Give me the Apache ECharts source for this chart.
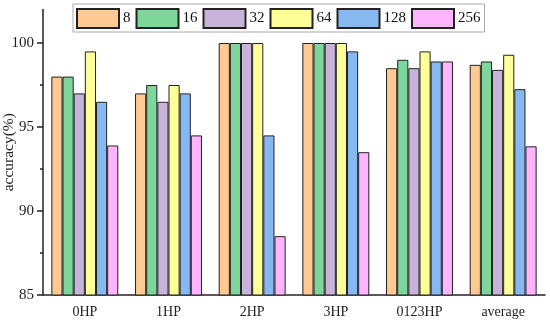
<!DOCTYPE html>
<html><head><meta charset="utf-8">
<script src="https://cdn.jsdelivr.net/npm/echarts@6/dist/echarts.min.js"></script>
<style>html,body{margin:0;padding:0;background:#fff}#c{width:550px;height:323px}</style>
</head><body><div id="c"></div>
<script>
const categories = ['0HP','1HP','2HP','3HP','0123HP','average'];
const seriesNames = ['8','16','32','64','128','256'];
const s8   = [98.0, 97.0, 100, 100, 98.5, 98.7];
const s16  = [98.0, 97.5, 100, 100, 99.0, 98.9];
const s32  = [97.0, 96.5, 100, 100, 98.5, 98.4];
const s64  = [99.5, 97.5, 100, 100, 99.5, 99.3];
const s128 = [96.5, 97.0, 94.5, 99.5, 98.9, 97.25];
const s256 = [93.9, 94.5, 88.5, 93.5, 98.9, 93.85];
const yTicks = [85, 90, 95, 100];
const yMinorTicks = [87.5, 92.5, 97.5];
const colors = ['#FFC992','#7DD69A','#C8B4DA','#FFFF99','#88B8F2','#FFB4FF'];
const allData = [s8, s16, s32, s64, s128, s256];
const font = 'Liberation Serif';
const axisColor = '#222';

const chart = echarts.init(document.getElementById('c'));
chart.setOption({
  animation: false,
  textStyle: {fontFamily: font},
  grid: {left: 43, right: 5, top: 9.4, bottom: 28, outerBoundsMode: 'none', containLabel: false},
  legend: {
    left: 73, top: 4,
    itemWidth: 42, itemHeight: 19, itemGap: 5,
    padding: [4, 4, 3, 3],
    borderColor: '#aaa', borderWidth: 1,
    icon: 'rect',
    textStyle: {fontFamily: font, fontSize: 15, color: '#111', padding: [0,0,0,-1]},
    data: seriesNames
  },
  xAxis: [{
    type: 'category', data: categories,
    axisLine: {lineStyle: {color: axisColor, width: 1.5}},
    axisTick: {alignWithLabel: true, length: 6, lineStyle: {color: axisColor, width: 1.5}},
    axisLabel: {fontFamily: font, fontSize: 14, color: '#222', margin: 10}
  }, {
    type: 'category', data: categories, position: 'bottom',
    axisLine: {show: false},
    axisTick: {length: 3, lineStyle: {color: axisColor, width: 1.5}},
    axisLabel: {show: false}
  }],
  yAxis: [{
    type: 'value', min: 85, max: 102,
    name: 'accuracy(%)', nameLocation: 'middle', nameGap: 26.5, nameMoveOverlap: false,
    nameTextStyle: {fontFamily: font, fontSize: 15.5, color: '#222'},
    axisLine: {show: true, lineStyle: {color: axisColor, width: 1.5}},
    axisTick: {show: true, length: 6, customValues: yTicks, lineStyle: {color: axisColor, width: 1.5}},
    axisLabel: {fontFamily: font, fontSize: 15, color: '#222', margin: 9, customValues: yTicks},
    splitLine: {show: false}
  }, {
    type: 'value', min: 85, max: 102, position: 'left',
    axisLine: {show: false},
    axisTick: {show: true, length: 3, customValues: yMinorTicks, lineStyle: {color: axisColor, width: 1.5}},
    axisLabel: {show: false, customValues: yMinorTicks},
    splitLine: {show: false}
  }],
  series: seriesNames.map((n, i) => ({
    name: n, type: 'bar', data: allData[i],
    barGap: '0%', barCategoryGap: '20%',
    itemStyle: {color: colors[i], borderColor: '#222', borderWidth: 1}
  }))
});
</script></body></html>
